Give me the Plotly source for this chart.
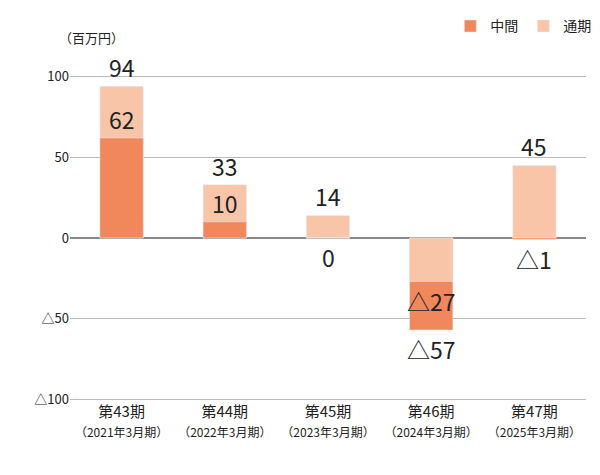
import plotly.graph_objects as go

# data
periods = ["第43期<br><span style='font-size:12px'>（2021年3月期）</span>",
           "第44期<br><span style='font-size:12px'>（2022年3月期）</span>",
           "第45期<br><span style='font-size:12px'>（2023年3月期）</span>",
           "第46期<br><span style='font-size:12px'>（2024年3月期）</span>",
           "第47期<br><span style='font-size:12px'>（2025年3月期）</span>"]
interim = [62, 10, 0, -57, -1]
full_year = [94, 33, 14, -27, 45]
tick_vals = [-100, -50, 0, 50, 100]
tick_text = ["△100", "△50", "0", "50", "100"]

dark = "#F0885C"
light = "#F9C5A9"
font = "Noto Sans CJK JP"


def fmt(v):
    return f"△{abs(v)}" if v < 0 else str(v)


# the shorter of the two bars is drawn on top
back = [b if abs(b) >= abs(a) else a for a, b in zip(interim, full_year)]
back_col = [light if abs(b) >= abs(a) else dark for a, b in zip(interim, full_year)]
front = [a if abs(b) >= abs(a) else b for a, b in zip(interim, full_year)]
front_col = [dark if abs(b) >= abs(a) else light for a, b in zip(interim, full_year)]

fig = go.Figure()
fig.add_bar(x=periods, y=back, marker_color=back_col, width=0.42, showlegend=False)
fig.add_bar(x=periods, y=front, marker_color=front_col, width=0.42, showlegend=False)
# legend entries
fig.add_bar(x=[periods[0]], y=[None], name="中間", marker_color=dark)
fig.add_bar(x=[periods[0]], y=[None], name="通期", marker_color=light)

# value labels: above bar end if positive, below otherwise
for x, a, b in zip(periods, interim, full_year):
    for v in (a, b):
        fig.add_annotation(x=x, y=v, text=fmt(v), showarrow=False,
                           yanchor="bottom" if v > 0 else "top",
                           font=dict(size=23, color="#222", family=font))

fig.add_annotation(x=-0.025, y=1.08, xref="paper", yref="paper", text="（百万円）",
                   showarrow=False, xanchor="left", yanchor="bottom",
                   font=dict(size=13, color="#222"))

fig.update_layout(
    width=600, height=475,
    barmode="overlay",
    plot_bgcolor="white", paper_bgcolor="white",
    margin=dict(l=62, r=22, t=67, b=82, autoexpand=False),
    font=dict(family=font, color="#222"),
    showlegend=True,
    legend=dict(orientation="h", x=1.02, xanchor="right", y=1.1, yanchor="bottom",
                font=dict(size=14)),
    xaxis=dict(tickfont=dict(size=15), showline=False),
    yaxis=dict(range=[-101, 101], tickvals=tick_vals, ticktext=tick_text,
               showgrid=True, gridcolor="#BBBBBB", gridwidth=1,
               zeroline=True, zerolinecolor="#888888", zerolinewidth=2,
               tickfont=dict(size=13), ticks=""),
)

fig.write_html("out.html")
